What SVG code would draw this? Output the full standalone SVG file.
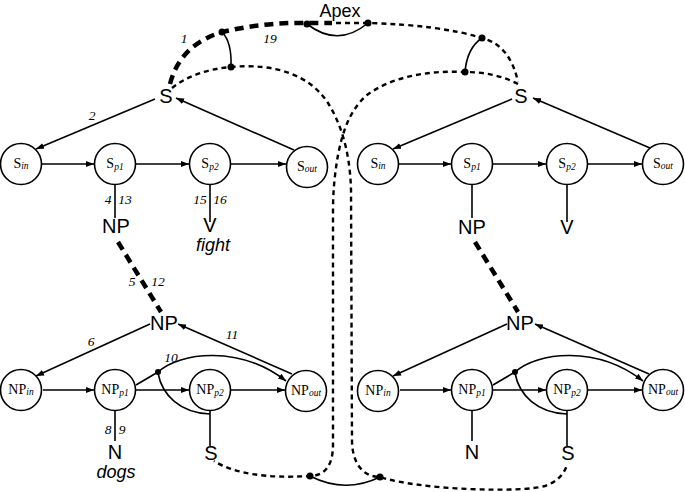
<svg xmlns="http://www.w3.org/2000/svg" width="685" height="492" viewBox="0 0 685 492">
<defs>
<marker id="ah" markerWidth="9" markerHeight="7" refX="8" refY="3.5" orient="auto" markerUnits="userSpaceOnUse">
<path d="M0,0.5 L8,3.5 L0,6.5 z" fill="#000"/>
</marker>
<style>
.c{fill:#fff;stroke:#000;stroke-width:1.6}
.l{fill:none;stroke:#000;stroke-width:1.6}
.a{fill:none;stroke:#000;stroke-width:1.6;marker-end:url(#ah)}
.thin{fill:none;stroke:#000;stroke-width:2.4;stroke-dasharray:5,4}
.thick{fill:none;stroke:#000;stroke-width:4.5;stroke-dasharray:9,6}
.dot{fill:#000}
.big{font-family:"Liberation Sans",Arial,sans-serif;font-size:20px;text-anchor:middle}
.word{font-family:"Liberation Sans",Arial,sans-serif;font-size:18px;font-style:italic;text-anchor:middle}
.nl{font-family:"Liberation Serif","Times New Roman",serif;font-size:14px;text-anchor:middle}
.sub{font-size:9.5px;font-style:italic}
.num{font-family:"Liberation Serif","Times New Roman",serif;font-size:13.5px;font-style:italic;text-anchor:middle}
</style>
</defs>

<g id="connectors">
<path class="thick" d="M170,84 Q 180,45 222,32 Q 265,22 307,23 L332,23"/>
<path class="thin" d="M336,23 L368,23 Q 440,25 482,38 Q 510,45 518,82"/>
<path class="l" d="M307,24 Q 338,48 368,23"/>
<path class="l" d="M222,32 Q 232,42 231,67"/>
<path class="l" d="M482,38 Q 467,48 465,72"/>
<path class="thin" d="M172,88 Q 195,70 231,67 C 275,63 310,75 328,103 C 340,122 350,150 351,190 L352,440 C 352,462 362,477 380,477 C 420,490 520,493 545,486 Q 562,480 567,465"/>
<path class="thin" d="M518,84 Q 495,72 465,72 C 425,70 390,78 367,95 C 350,110 343,130 338,155 C 335,172 333,190 333,210 L333,445 C 333,465 325,476 310,476 Q 245,480 214,461"/>
<path class="l" d="M310,476 Q 345,494 380,477"/>
<circle class="dot" cx="222" cy="32" r="3.5"/>
<circle class="dot" cx="231" cy="67" r="3.5"/>
<circle class="dot" cx="307" cy="24" r="3.5"/>
<circle class="dot" cx="368" cy="23" r="3.5"/>
<circle class="dot" cx="482" cy="38" r="3.5"/>
<circle class="dot" cx="465" cy="72" r="3.5"/>
<circle class="dot" cx="310" cy="476" r="3.5"/>
<circle class="dot" cx="380" cy="477" r="3.5"/>

<line class="a" x1="155" y1="99" x2="36" y2="149"/>
<line class="a" x1="294" y1="150" x2="176" y2="98"/>
<line class="a" x1="42" y1="164" x2="94" y2="164"/>
<line class="a" x1="136" y1="164" x2="189" y2="164"/>
<line class="a" x1="231" y1="164" x2="286" y2="164"/>
<line class="l" x1="115" y1="184" x2="115" y2="218"/>
<line class="l" x1="210" y1="184" x2="210" y2="222"/>
<line class="thick" x1="118" y1="242" x2="161" y2="312"/>

<line class="a" x1="512" y1="99" x2="393" y2="149"/>
<line class="a" x1="650" y1="148" x2="533" y2="98"/>
<line class="a" x1="399" y1="164" x2="451" y2="164"/>
<line class="a" x1="493" y1="164" x2="546" y2="164"/>
<line class="a" x1="588" y1="164" x2="642" y2="164"/>
<line class="l" x1="472" y1="184" x2="472" y2="218"/>
<line class="l" x1="567" y1="184" x2="567" y2="222"/>
<line class="thick" x1="475" y1="242" x2="518" y2="312"/>

<line class="a" x1="150" y1="324" x2="36" y2="376"/>
<line class="a" x1="292" y1="374" x2="178" y2="324"/>
<line class="a" x1="43" y1="390" x2="94" y2="390"/>
<line class="a" x1="136" y1="390" x2="189" y2="390"/>
<line class="a" x1="231" y1="390" x2="285" y2="390"/>
<path class="a" d="M136,385 L158,372 C 180,352 240,345 286,381"/>
<path class="l" d="M158,373 C 162,395 180,413 210,414"/>
<circle class="dot" cx="158" cy="372" r="3"/>
<line class="l" x1="115" y1="411" x2="115" y2="441"/>
<line class="l" x1="210" y1="411" x2="210" y2="446"/>

<line class="a" x1="507" y1="324" x2="393" y2="376"/>
<line class="a" x1="649" y1="374" x2="535" y2="324"/>
<line class="a" x1="400" y1="390" x2="451" y2="390"/>
<line class="a" x1="493" y1="390" x2="546" y2="390"/>
<line class="a" x1="588" y1="390" x2="642" y2="390"/>
<path class="a" d="M493,385 L515,372 C 537,352 597,345 643,381"/>
<path class="l" d="M515,373 C 519,395 537,413 567,414"/>
<circle class="dot" cx="515" cy="372" r="3"/>
<line class="l" x1="472" y1="411" x2="472" y2="441"/>
<line class="l" x1="567" y1="411" x2="567" y2="446"/>
</g>

<g id="apex"><text class="big" x="340" y="17" style="font-size:18px">Apex</text></g>

<g id="S-left"><text class="big" x="166" y="103">S</text></g>
<g id="Sin-left"><circle class="c" cx="21" cy="164" r="20.5"/><text class="nl" x="21" y="168">S<tspan class="sub" dy="1">in</tspan></text></g>
<g id="Sp1-left"><circle class="c" cx="115" cy="164" r="20.5"/><text class="nl" x="115" y="168">S<tspan class="sub" dy="2">p1</tspan></text></g>
<g id="Sp2-left"><circle class="c" cx="210" cy="164" r="20.5"/><text class="nl" x="210" y="168">S<tspan class="sub" dy="2">p2</tspan></text></g>
<g id="Sout-left"><circle class="c" cx="307" cy="167" r="20.5"/><text class="nl" x="307" y="171">S<tspan class="sub" dy="1">out</tspan></text></g>
<g id="NP-s-left"><text class="big" x="116" y="233">NP</text></g>
<g id="V-left"><text class="big" x="210" y="232">V</text><text class="word" x="213" y="251">fight</text></g>

<g id="S-right"><text class="big" x="521" y="103">S</text></g>
<g id="Sin-right"><circle class="c" cx="378" cy="164" r="20.5"/><text class="nl" x="378" y="168">S<tspan class="sub" dy="1">in</tspan></text></g>
<g id="Sp1-right"><circle class="c" cx="472" cy="164" r="20.5"/><text class="nl" x="472" y="168">S<tspan class="sub" dy="2">p1</tspan></text></g>
<g id="Sp2-right"><circle class="c" cx="567" cy="164" r="20.5"/><text class="nl" x="567" y="168">S<tspan class="sub" dy="2">p2</tspan></text></g>
<g id="Sout-right"><circle class="c" cx="663" cy="164" r="20.5"/><text class="nl" x="663" y="168">S<tspan class="sub" dy="1">out</tspan></text></g>
<g id="NP-s-right"><text class="big" x="472" y="234">NP</text></g>
<g id="V-right"><text class="big" x="567" y="234">V</text></g>

<g id="NP-left"><text class="big" x="164" y="330">NP</text></g>
<g id="NPin-left"><circle class="c" cx="21" cy="390" r="20.5"/><text class="nl" x="21" y="394">NP<tspan class="sub" dy="1">in</tspan></text></g>
<g id="NPp1-left"><circle class="c" cx="115" cy="390" r="20.5"/><text class="nl" x="115" y="394">NP<tspan class="sub" dy="2">p1</tspan></text></g>
<g id="NPp2-left"><circle class="c" cx="210" cy="390" r="20.5"/><text class="nl" x="210" y="394">NP<tspan class="sub" dy="2">p2</tspan></text></g>
<g id="NPout-left"><circle class="c" cx="306" cy="391" r="20.5"/><text class="nl" x="306" y="395">NP<tspan class="sub" dy="1">out</tspan></text></g>
<g id="N-left"><text class="big" x="115" y="459">N</text><text class="word" x="116" y="478">dogs</text></g>
<g id="S-np-left"><text class="big" x="211" y="460">S</text></g>

<g id="NP-right"><text class="big" x="520" y="330">NP</text></g>
<g id="NPin-right"><circle class="c" cx="378" cy="391" r="20.5"/><text class="nl" x="378" y="395">NP<tspan class="sub" dy="1">in</tspan></text></g>
<g id="NPp1-right"><circle class="c" cx="472" cy="390" r="20.5"/><text class="nl" x="472" y="394">NP<tspan class="sub" dy="2">p1</tspan></text></g>
<g id="NPp2-right"><circle class="c" cx="567" cy="390" r="20.5"/><text class="nl" x="567" y="394">NP<tspan class="sub" dy="2">p2</tspan></text></g>
<g id="NPout-right"><circle class="c" cx="663" cy="390" r="20.5"/><text class="nl" x="663" y="394">NP<tspan class="sub" dy="1">out</tspan></text></g>
<g id="N-right"><text class="big" x="472" y="459">N</text></g>
<g id="S-np-right"><text class="big" x="568" y="460">S</text></g>

<g id="numbers">
<text class="num" x="184" y="43">1</text>
<text class="num" x="270" y="43">19</text>
<text class="num" x="92" y="120">2</text>
<text class="num" x="108" y="204">4</text>
<text class="num" x="125" y="204">13</text>
<text class="num" x="200" y="204">15</text>
<text class="num" x="220" y="204">16</text>
<text class="num" x="132" y="286">5</text>
<text class="num" x="158" y="286">12</text>
<text class="num" x="91" y="346">6</text>
<text class="num" x="232" y="339">11</text>
<text class="num" x="171" y="362">10</text>
<text class="num" x="108" y="434">8</text>
<text class="num" x="122" y="434">9</text>
</g>
</svg>
